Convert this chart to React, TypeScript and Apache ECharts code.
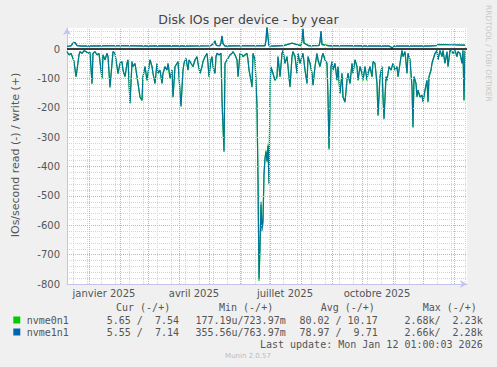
import React, { useEffect, useRef } from 'react';
import * as echarts from 'echarts';

// Days since 2025-01-01 (one sample per day in the munin year graph)
const readDays = [
  -22, -20, -18, -16, -15, -13, -12, -10, -9, -7,
  -5, -3, -1, 1, 3, 4, 6, 8, 10, 13,
  14, 16, 18, 19, 21, 23, 24, 26, 28, 29,
  31, 33, 34, 36, 38, 39, 41, 43, 44, 46,
  48, 49, 51, 53, 54, 56, 58, 59, 61, 63,
  64, 66, 68, 69, 71, 73, 74, 76, 78, 79,
  81, 83, 84, 86, 88, 89, 92, 94, 95, 97,
  99, 100, 102, 104, 106, 108, 109, 111, 113, 114,
  116, 118, 119, 120, 122, 123, 124, 126, 127, 128,
  130, 132, 133, 135, 136, 138, 139, 141, 143, 144,
  146, 148, 149, 151, 153, 154, 156, 158, 159, 160,
  162, 163, 164, 166, 168, 169, 170, 171, 172, 173,
  174, 175, 176, 177, 178, 179, 180, 181, 182, 184,
  186, 188, 189, 191, 193, 194, 196, 198, 199, 201,
  203, 204, 206, 208, 209, 211, 213, 214, 216, 218,
  219, 221, 223, 224, 226, 228, 229, 231, 233, 234,
  236, 238, 239, 240, 242, 243, 244, 246, 248, 249,
  251, 253, 254, 256, 258, 259, 261, 263, 264, 266,
  268, 269, 271, 273, 274, 276, 278, 279, 281, 283,
  284, 286, 288, 289, 291, 293, 294, 295, 297, 298,
  300, 302, 304, 306, 308, 309, 311, 313, 314, 316,
  318, 319, 321, 323, 324, 325, 327, 328, 329, 331,
  333, 334, 336, 338, 339, 340, 342, 343, 344, 346,
  348, 349, 351, 353, 354, 356, 358, 359, 361, 363,
  364, 366, 368, 369, 371, 373, 374, 375, 376,
];

// read IOs/s (drawn below zero)
const readNvme0 = [
  9, 20, 15, 32, 43, 95, 72, 20, 9, 15,
  6, 9, 15, 12, 119, 15, 9, 20, 15, 101,
  20, 37, 15, 26, 131, 49, 9, 15, 60, 84,
  49, 43, 72, 95, 49, 37, 183, 43, 60, 49,
  95, 118, 164, 176, 95, 60, 107, 83, 37, 60,
  83, 118, 49, 83, 72, 118, 83, 60, 72, 49,
  101, 72, 165, 60, 49, 43, 193, 72, 49, 32,
  72, 37, 49, 60, 37, 26, 49, 83, 60, 43,
  26, 15, 49, 95, 37, 26, 60, 83, 26, 15,
  20, 15, 176, 346, 49, 37, 32, 20, 15, 9,
  20, 37, 95, 15, 20, 26, 20, 15, 37, 72,
  107, 130, 15, 37, 195, 440, 790, 670, 530, 610,
  590, 420, 375, 345, 385, 325, 455, 125, 62, 84,
  107, 95, 26, 95, 15, 5, 49, 26, 60, 130,
  26, 9, 26, 83, 15, 49, 26, 15, 72, 118,
  26, 49, 83, 124, 60, 15, 37, 60, 26, 15,
  37, 49, 165, 342, 60, 43, 72, 49, 107, 60,
  152, 83, 164, 181, 107, 83, 118, 49, 83, 37,
  60, 107, 60, 83, 107, 60, 107, 83, 60, 95,
  43, 49, 118, 228, 95, 60, 164, 236, 95, 107,
  60, 72, 49, 72, 60, 95, 49, 5, 26, 9,
  83, 15, 37, 130, 268, 95, 118, 164, 141, 164,
  158, 181, 141, 107, 181, 95, 72, 49, 37, 15,
  5, 37, 5, 26, 5, 49, 9, 60, 5, 9,
  15, 5, 26, 9, 15, 49, 5, 176, 6,
];

const readNvme1 = [
  8, 19, 14, 31, 42, 93, 71, 19, 8, 14,
  5, 8, 14, 11, 116, 14, 8, 19, 14, 99,
  19, 36, 14, 25, 128, 48, 8, 14, 59, 82,
  48, 42, 71, 93, 48, 36, 185, 42, 59, 48,
  93, 116, 162, 173, 93, 59, 105, 82, 36, 59,
  82, 116, 48, 82, 71, 116, 82, 59, 71, 48,
  99, 71, 162, 59, 48, 42, 196, 71, 48, 31,
  71, 36, 48, 59, 36, 25, 48, 82, 59, 42,
  25, 14, 48, 93, 36, 25, 59, 82, 25, 14,
  19, 14, 173, 350, 48, 36, 31, 19, 14, 8,
  19, 36, 93, 14, 19, 25, 19, 14, 36, 71,
  105, 128, 14, 36, 190, 450, 782, 680, 520, 620,
  580, 430, 370, 350, 380, 330, 460, 120, 60, 82,
  105, 93, 25, 93, 14, 4, 48, 25, 59, 128,
  25, 8, 25, 82, 14, 48, 25, 14, 71, 116,
  25, 48, 82, 122, 59, 14, 36, 59, 25, 14,
  36, 48, 162, 338, 59, 42, 71, 48, 105, 59,
  150, 82, 162, 179, 105, 82, 116, 48, 82, 36,
  59, 105, 59, 82, 105, 59, 105, 82, 59, 93,
  42, 48, 116, 224, 93, 59, 162, 239, 93, 105,
  59, 71, 48, 71, 59, 93, 48, 4, 25, 8,
  82, 14, 36, 128, 264, 93, 116, 162, 139, 162,
  156, 179, 139, 105, 179, 93, 71, 48, 36, 14,
  4, 36, 4, 25, 4, 48, 8, 59, 4, 8,
  14, 4, 25, 8, 14, 48, 4, 173, 5,
];

const writeDays = [
  -22, -18, -16, -14, -12, -8, 0, 20, 40, 60,
  80, 100, 120, 122, 125, 126, 127, 128, 131, 132,
  133, 134, 136, 150, 165, 176, 177, 178, 179, 180,
  185, 195, 203, 212, 213, 214, 215, 220, 230, 231,
  232, 233, 240, 260, 280, 300, 302, 303, 304, 305,
  307, 320, 340, 348, 349, 360, 376,
];

const writeNvme0 = [
  9, 12, 21, 22, 13, 11, 11, 12, 12, 11,
  12, 11, 12, 13, 21, 29, 15, 13, 12, 23,
  44, 19, 11, 12, 12, 12, 31, 78, 41, 12,
  11, 13, 21, 12, 31, 68, 21, 12, 13, 26,
  60, 16, 12, 12, 11, 11, 8, 4, 7, 11,
  11, 11, 11, 13, 16, 15, 14,
];

const writeNvme1 = [
  9, 11, 20, 23, 12, 10, 10, 11, 11, 10,
  11, 10, 11, 12, 20, 28, 14, 12, 11, 22,
  45, 18, 10, 11, 11, 11, 30, 78, 40, 11,
  10, 12, 20, 11, 30, 70, 20, 11, 12, 25,
  62, 15, 11, 11, 10, 10, 7, 3, 6, 10,
  10, 10, 10, 12, 15, 15, 14,
];

// grid / axis positions (days since 2025-01-01)
const monthStartDays = [0, 31, 59, 90, 120, 151, 181, 212, 243, 273, 304, 334, 365];
const minorGridDays = [-16, -2, 12, 26, 40, 54, 68, 82, 96, 110, 124, 138, 152, 166, 180, 194, 208, 222, 236, 250, 264, 278, 292, 306, 320, 334, 348, 362, 376];
const majorYLines = [-700, -600, -500, -400, -300, -200, -100];
const xLabelDays = [15, 105, 196, 288];
const xLabels = ['janvier 2025', 'avril 2025', 'juillet 2025', 'octobre 2025'];

const devices = ['nvme0n1', 'nvme1n1'];
const deviceColors = ['#00CC00', '#0066B3'];
const legendHeaders = ['Cur (-/+)', 'Min (-/+)', 'Avg (-/+)', 'Max (-/+)'];
const curStats = ['5.65 /  7.54', '5.55 /  7.14'];
const minStats = ['177.19u/723.97m', '355.56u/763.97m'];
const avgStats = ['80.02 / 10.17', '78.97 /  9.71'];
const maxStats = ['2.68k/  2.23k', '2.66k/  2.28k'];
const lastUpdate = 'Last update: Mon Jan 12 01:00:03 2026';

const SANS = '"DejaVu Sans", Verdana, sans-serif';
const MONO = '"DejaVu Sans Mono", monospace';

function monoText(text: string, x: number, y: number, align: string, fill = '#444') {
  return {
    type: 'text',
    x,
    y,
    silent: true,
    style: {
      text: text.replace(/ /g, '\u00A0'),
      fill,
      font: `10px ${MONO}`,
      align,
      verticalAlign: 'middle',
    },
  };
}

export default function App() {
  const ref = useRef<HTMLDivElement>(null);

  useEffect(() => {
    document.body.style.margin = '0';
    if (!ref.current) return;
    const chart = echarts.init(ref.current, null, { renderer: 'svg' });

    const graphics: any[] = [
      {
        type: 'text', x: 248.5, y: 19, silent: true,
        style: { text: 'Disk IOs per device - by year', fill: '#444', font: `12.5px ${SANS}`, align: 'center', verticalAlign: 'middle' },
      },
      {
        type: 'text', x: 15.5, y: 155, rotation: Math.PI / 2, silent: true,
        style: { text: 'IOs/second read (-) / write (+)', fill: '#555', font: `11px ${SANS}`, align: 'center', verticalAlign: 'middle' },
      },
      {
        type: 'text', x: 488.5, y: 5, rotation: -Math.PI / 2, silent: true,
        style: { text: 'RRDTOOL / TOBI OETIKER', fill: '#c8c8c8', font: `7.5px ${SANS}`, align: 'left', verticalAlign: 'middle' },
      },
      monoText(legendHeaders[0], 116, 307.5, 'left', '#555'),
      monoText(legendHeaders[1], 219, 307.5, 'left', '#555'),
      monoText(legendHeaders[2], 320.7, 307.5, 'left', '#555'),
      monoText(legendHeaders[3], 422.7, 307.5, 'left', '#555'),
      monoText(lastUpdate, 482.7, 344, 'right', '#555'),
      {
        type: 'text', x: 248, y: 356, silent: true,
        style: { text: 'Munin 2.0.57', fill: '#bbbbbb', font: `7px ${SANS}`, align: 'center', verticalAlign: 'middle' },
      },
    ];
    devices.forEach((d, i) => {
      const y = 320 + i * 12;
      graphics.push({
        type: 'rect', silent: true,
        shape: { x: 13.3, y: y - 3.5, width: 7, height: 7 },
        style: { fill: deviceColors[i] },
      });
      graphics.push(monoText(d, 26.7, y, 'left', '#555'));
      graphics.push(monoText(curStats[i], 179, y, 'right', '#555'));
      graphics.push(monoText(minStats[i], 285.7, y, 'right', '#555'));
      graphics.push(monoText(avgStats[i], 377.7, y, 'right', '#555'));
      graphics.push(monoText(maxStats[i], 482.7, y, 'right', '#555'));
    });

    const readSeries = (vals: number[]) => readDays.map((d, i) => [d, -vals[i]]);
    const writeSeries = (vals: number[]) => writeDays.map((d, i) => [d, vals[i]]);

    const lineBase = {
      type: 'line',
      showSymbol: false,
      symbol: 'none',
      silent: true,
      clip: true,
      emphasis: { disabled: true },
    };

    chart.setOption({
      animation: false,
      backgroundColor: '#F0F0F0',
      textStyle: { fontFamily: SANS },
      grid: { left: 67, top: 28, width: 400, height: 256, show: true, backgroundColor: '#FFFFFF', borderWidth: 0 },
      xAxis: {
        type: 'value',
        min: -22,
        max: 378,
        axisLine: { show: true, onZero: false, lineStyle: { color: '#c4c4ee', width: 1 }, symbol: ['none', 'arrow'], symbolSize: [6, 7] },
        axisTick: { show: false },
        splitLine: { show: false },
        axisLabel: {
          customValues: xLabelDays,
          formatter: (v: number) => {
            const idx = xLabelDays.indexOf(v);
            return idx >= 0 ? xLabels[idx] : '';
          },
          color: '#555',
          fontSize: 10,
          fontFamily: SANS,
          margin: 4,
        },
      },
      yAxis: {
        type: 'value',
        min: -800,
        max: 72,
        interval: 20,
        axisLine: { show: true, onZero: false, lineStyle: { color: '#c4c4ee', width: 1 }, symbol: ['none', 'arrow'], symbolSize: [6, 7] },
        axisTick: { show: false },
        axisLabel: {
          formatter: (v: number) => (v % 100 === 0 ? String(v) : ''),
          color: '#555',
          fontSize: 10,
          fontFamily: SANS,
          margin: 7,
        },
        splitLine: { show: true, showMinLine: false, showMaxLine: false, lineStyle: { color: '#d4d4d4', type: [1, 1], width: 1 } },
      },
      graphic: graphics,
      series: [
        {
          type: 'line', data: [], silent: true, z: 1,
          markLine: {
            silent: true, symbol: ['none', 'none'], label: { show: false }, animation: false,
            lineStyle: { color: '#d4d4d4', type: [1, 1], width: 1 },
            emphasis: { disabled: true },
            data: minorGridDays.map((d) => ({ xAxis: d })),
          },
        },
        {
          type: 'line', data: [], silent: true, z: 2,
          markLine: {
            silent: true, symbol: ['none', 'none'], label: { show: false }, animation: false,
            lineStyle: { color: '#eaa2a2', type: [1, 1], width: 1 },
            emphasis: { disabled: true },
            data: [
              ...monthStartDays.map((d) => ({ xAxis: d })),
              ...majorYLines.map((v) => ({ yAxis: v })),
            ],
          },
        },
        { ...lineBase, name: devices[0], z: 3, data: readSeries(readNvme0), lineStyle: { color: deviceColors[0], width: 1.2 } },
        { ...lineBase, name: devices[0] + ' write', z: 3, data: writeSeries(writeNvme0), lineStyle: { color: deviceColors[0], width: 1.2 } },
        { ...lineBase, name: devices[1], z: 4, data: readSeries(readNvme1), lineStyle: { color: deviceColors[1], width: 1.2, opacity: 0.85 } },
        { ...lineBase, name: devices[1] + ' write', z: 4, data: writeSeries(writeNvme1), lineStyle: { color: deviceColors[1], width: 1.2, opacity: 0.95 } },
        {
          type: 'line', data: [], silent: true, z: 5,
          markLine: {
            silent: true, symbol: ['none', 'none'], label: { show: false }, animation: false,
            lineStyle: { color: '#000000', type: 'solid', width: 1.5 },
            emphasis: { disabled: true },
            data: [{ yAxis: 0 }],
          },
        },
      ],
    });

    return () => chart.dispose();
  }, []);

  return <div ref={ref} style={{ width: 497, height: 367 }} />;
}
